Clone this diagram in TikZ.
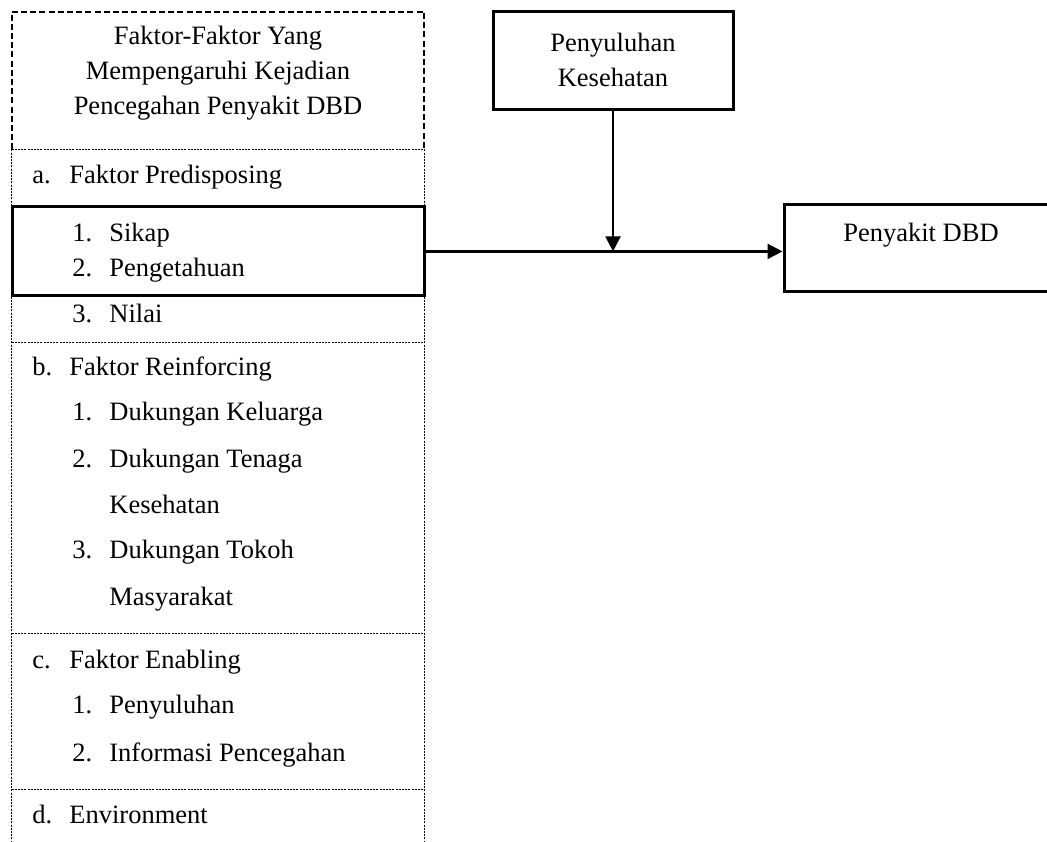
\documentclass[tikz,border=0pt]{standalone}
\usepackage{fontspec}
\setmainfont{Liberation Serif}
\usetikzlibrary{positioning,arrows.meta}

\newcommand{\nomor}[2]{\makebox[18.5pt][l]{#1}#2}

\begin{document}
\begin{tikzpicture}[x=0.5pt, y=-0.5pt, font=\fontsize{13.25}{17.5}\selectfont]
\tikzstyle{judulbox} = [rectangle, minimum width=206pt, minimum height=68.5pt, text centered, align=center, text depth=10pt]
\tikzstyle{thickbox} = [rectangle, draw=black, line width=1.5pt]
\tikzstyle{judulline} = [line width=1pt, dash pattern=on 3pt off 1.6pt]
\tikzstyle{dotline} = [line width=0.4pt, dash pattern=on 1pt off 0.6pt]
\tikzstyle{listtext} = [anchor=base west, inner sep=0pt]
\tikzstyle{arrow} = [line width=1.1pt, -{Triangle[length=7.5pt,width=7.5pt]}]

\clip (0,0) rectangle (1047,841);

\node (judul) [judulbox] at (218,80.5) {Faktor-Faktor Yang\\Mempengaruhi Kejadian\\Pencegahan Penyakit DBD};
\node (sikap) [thickbox, minimum width=206pt, minimum height=44.5pt, below=28pt of judul] {};
\node (dbd) [thickbox, minimum width=137pt, minimum height=43.5pt, text depth=16.5pt, right=178.5pt of sikap, yshift=1.5pt] {Penyakit DBD};
\node (kes) [thickbox, minimum width=120pt, minimum height=49pt, align=center] at (613,60) {Penyuluhan\\Kesehatan};

% kolom faktor
\draw [judulline] (judul.south west) -- (judul.north west) -- (judul.north east) -- (judul.south east);
\draw [dotline] (judul.south west) -- (judul.south east);
\draw [dotline] (judul.south west) -- ++(0,720);
\draw [dotline] (judul.south east) -- ++(0,720);
\foreach \y in {342,633,789}
  \draw [dotline] (judul.south west |- 0,\y) -- (judul.south east |- 0,\y);

\node (fa) [listtext] at (32,183) {\nomor{a.}{Faktor Predisposing}};
\node (fa1) [listtext] at (72,241) {\nomor{1.}{Sikap}};
\node (fa2) [listtext] at (72,276) {\nomor{2.}{Pengetahuan}};
\node (fa3) [listtext] at (72,322) {\nomor{3.}{Nilai}};
\node (fb) [listtext] at (32,375) {\nomor{b.}{Faktor Reinforcing}};
\node (fb1) [listtext] at (72,420) {\nomor{1.}{Dukungan Keluarga}};
\node (fb2) [listtext] at (72,467) {\nomor{2.}{Dukungan Tenaga}};
\node (fb2b) [listtext] at (109,513) {Kesehatan};
\node (fb3) [listtext] at (72,558) {\nomor{3.}{Dukungan Tokoh}};
\node (fb3b) [listtext] at (109,605) {Masyarakat};
\node (fc) [listtext] at (32,668) {\nomor{c.}{Faktor Enabling}};
\node (fc1) [listtext] at (72,713) {\nomor{1.}{Penyuluhan}};
\node (fc2) [listtext] at (72,761) {\nomor{2.}{Informasi Pencegahan}};
\node (fd) [listtext] at (32,823) {\nomor{d.}{Environment}};

\coordinate (temu) at (kes.south |- sikap.east);

\draw [arrow] (sikap.east) -- (sikap.east -| dbd.west);
\draw [arrow] (kes.south) -- (temu);

\end{tikzpicture}
\end{document}
